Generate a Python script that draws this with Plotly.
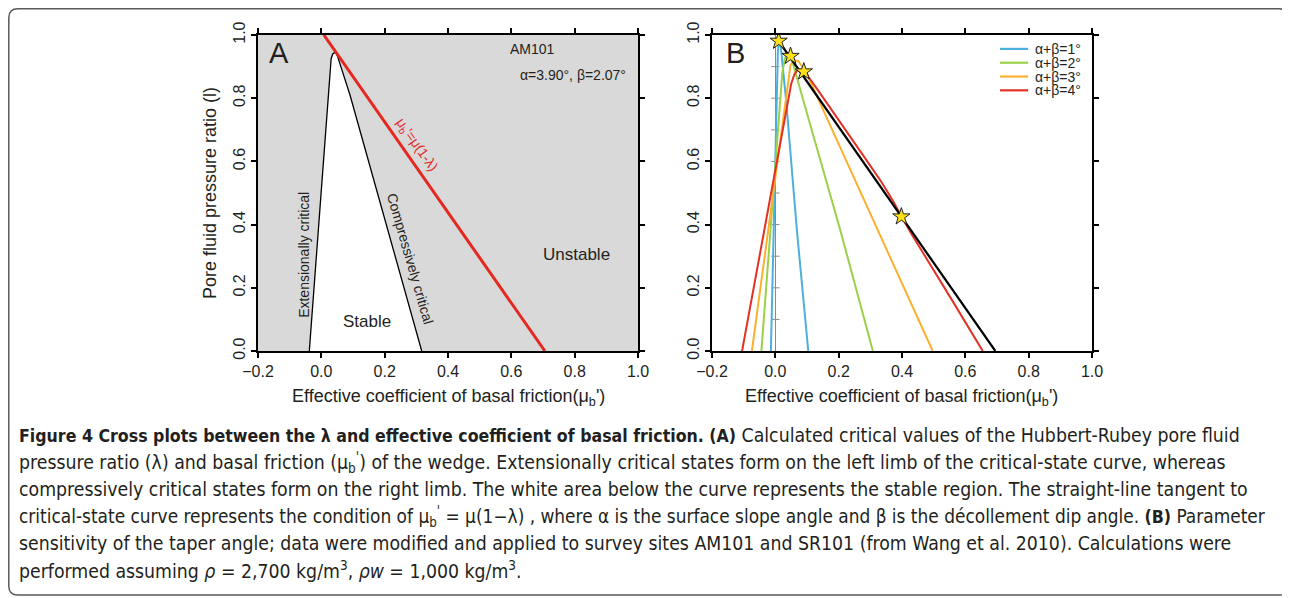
import plotly.graph_objects as go

# The page body has an 8 px margin, so the figure is drawn 8 px smaller and all
# reference pixel positions are shifted by that margin.
OFF = 8
W, H = 1290 - OFF, 598 - OFF

# ---------------- data ----------------
x_ticks = [-0.2, 0.0, 0.2, 0.4, 0.6, 0.8, 1.0]
y_ticks = [0.0, 0.2, 0.4, 0.6, 0.8, 1.0]
zero_minor_y = [0.1, 0.2, 0.3, 0.4, 0.5, 0.6, 0.7, 0.8, 0.9]

# Panel A: critical-state envelope (stable wedge) and tangent line
stable_x = [-0.038, -0.023, -0.0084, 0.0064, 0.022, 0.028, 0.031, 0.036, 0.041, 0.047, 0.052, 0.0905, 0.317]
stable_y = [0.0, 0.2, 0.4, 0.6, 0.81, 0.90, 0.925, 0.940, 0.944, 0.942, 0.930, 0.81, 0.0]
tangentA_x = [0.008, 0.706]
tangentA_y = [1.0, 0.0]

# Panel B: sensitivity curves
series_names = ["α+β=1°", "α+β=2°", "α+β=3°", "α+β=4°"]
blue_x = [-0.014, -0.005, 0.003, 0.008, 0.012, 0.016, 0.034, 0.068, 0.104]
blue_y = [0.0, 0.415, 0.80, 0.95, 0.985, 0.975, 0.794, 0.383, 0.0]
green_x = [-0.044, -0.013, 0.010, 0.022, 0.030, 0.038, 0.049, 0.088, 0.205, 0.308]
green_y = [0.0, 0.415, 0.72, 0.88, 0.925, 0.942, 0.934, 0.794, 0.383, 0.0]
orange_x = [-0.074, -0.019, 0.012, 0.032, 0.041, 0.048, 0.058, 0.072, 0.085, 0.098, 0.137, 0.309, 0.497]
orange_y = [0.0, 0.415, 0.65, 0.80, 0.87, 0.905, 0.920, 0.918, 0.900, 0.880, 0.794, 0.415, 0.0]
red_x = [-0.105, -0.028, 0.006, 0.035, 0.050, 0.060, 0.068, 0.078, 0.088, 0.098, 0.105, 0.135, 0.175,
         0.225, 0.280, 0.335, 0.370, 0.397, 0.430, 0.558, 0.655]
red_y = [0.0, 0.415, 0.60, 0.763, 0.845, 0.875, 0.887, 0.890, 0.888, 0.880, 0.867, 0.825, 0.768,
         0.695, 0.615, 0.535, 0.478, 0.428, 0.370, 0.161, 0.0]
tangentB_x = [0.0105, 0.6947]
tangentB_y = [0.981, 0.0]
star_x = [0.0105, 0.048, 0.090, 0.398]
star_y = [0.981, 0.933, 0.884, 0.425]

x_title = "Effective coefficient of basal friction(μ<sub>b</sub>')"
y_title = "Pore fluid pressure ratio (l)"

BOLD = '<span style="font-size:17.6px"><b>{}</b></span>'
caption_lines = [
    BOLD.format("Figure 4 Cross plots between the λ and effective coefficient of basal friction. (A)")
    + " Calculated critical values of the Hubbert-Rubey pore fluid",
    "pressure ratio (λ) and basal friction (μ<sub>b</sub><sup>'</sup>) of the wedge. Extensionally critical states form on the left limb of the critical-state curve, whereas",
    "compressively critical states form on the right limb. The white area below the curve represents the stable region. The straight-line tangent to",
    "critical-state curve represents the condition of μ<sub>b</sub><sup>'</sup> = μ(1−λ) , where α is the surface slope angle and β is the décollement dip angle. "
    + BOLD.format("(B)") + " Parameter",
    "sensitivity of the taper angle; data were modified and applied to survey sites AM101 and SR101 (from Wang et al. 2010). Calculations were",
    "performed assuming <i>ρ</i> = 2,700 kg/m<sup>3</sup>, <i>ρw</i> = 1,000 kg/m<sup>3</sup>.",
]

# ---------------- styling ----------------
FONT = "Liberation Sans, Arial, Helvetica, sans-serif"
CAP_FONT = "Liberation Sans Narrow, DejaVu Sans Condensed, Liberation Sans, sans-serif"
CAP_SIZES = [19.3, 19.3, 19.3, 18.9, 19.3, 19.3]
TXT = "#231f20"
C_BLUE, C_GREEN, C_ORANGE, C_RED = "#4dafdd", "#9bd048", "#fbb12f", "#e33124"
colors = [C_BLUE, C_GREEN, C_ORANGE, C_RED]


def fx(p):  # reference page pixel -> paper fraction
    return (p - OFF) / W


def fy(p):
    return 1 - (p - OFF) / H


fig = go.Figure()

# Panel A
fig.add_trace(go.Scatter(x=stable_x, y=stable_y, mode="lines", fill="toself", fillcolor="white",
                         line=dict(color="black", width=1.3), xaxis="x", yaxis="y", showlegend=False,
                         hoverinfo="skip"))
fig.add_trace(go.Scatter(x=tangentA_x, y=tangentA_y, mode="lines", line=dict(color="#e4281f", width=3),
                         xaxis="x", yaxis="y", showlegend=False))

# Panel B: small marks on the zero line
fig.add_trace(go.Scatter(x=[0.0] * len(zero_minor_y), y=zero_minor_y, mode="markers",
                         marker=dict(symbol="line-ew", size=6, line=dict(color="#8a8a8a", width=1)),
                         xaxis="x2", yaxis="y2", showlegend=False, hoverinfo="skip"))
for xs, ys, c, n in zip([blue_x, green_x, orange_x, red_x], [blue_y, green_y, orange_y, red_y], colors, series_names):
    fig.add_trace(go.Scatter(x=xs, y=ys, mode="lines", name=n, line=dict(color=c, width=2),
                             xaxis="x2", yaxis="y2", showlegend=False))
fig.add_trace(go.Scatter(x=tangentB_x, y=tangentB_y, mode="lines", line=dict(color="black", width=2.2),
                         xaxis="x2", yaxis="y2", showlegend=False))
fig.add_trace(go.Scatter(x=star_x, y=star_y, mode="markers",
                         marker=dict(symbol="star", size=13, color="#ffe11a", line=dict(color="#222", width=1)),
                         xaxis="x2", yaxis="y2", showlegend=False))

# ---------------- axes ----------------
ydom = [fy(351), fy(35)]
axis_common = dict(ticks="outside", ticklen=5, tickwidth=1.5, tickcolor="black", showline=True,
                   linewidth=2, linecolor="black", mirror="ticks", showgrid=False, zeroline=False,
                   automargin=False,
                   tickfont=dict(family=FONT, size=16, color=TXT), tickformat=".1f")
fig.update_layout(
    xaxis=dict(domain=[fx(258), fx(638)], range=[-0.2, 1.0], tickvals=x_ticks, anchor="y", **axis_common),
    yaxis=dict(domain=ydom, range=[0, 1], tickvals=y_ticks, anchor="x", tickangle=-90, **axis_common),
    xaxis2=dict(domain=[fx(712), fx(1092)], range=[-0.2, 1.0], tickvals=x_ticks, anchor="y2",
                **{**axis_common, "zeroline": True, "zerolinecolor": "#8a8a8a", "zerolinewidth": 1}),
    yaxis2=dict(domain=ydom, range=[0, 1], tickvals=y_ticks, anchor="x2", tickangle=-90, **axis_common),
)

shapes = [
    dict(type="rect", xref="x", yref="y", x0=-0.2, x1=1.0, y0=0, y1=1, fillcolor="#d9d9d9",
         line=dict(width=0), layer="below"),
]

# outer rounded frame
x0, x1, y0, y1, r = 8.8, 1288, 8.8, 595, 9
path = (f"M {fx(x0+r)},{fy(y0)} L {fx(x1-r)},{fy(y0)} Q {fx(x1)},{fy(y0)} {fx(x1)},{fy(y0+r)} "
        f"L {fx(x1)},{fy(y1-r)} Q {fx(x1)},{fy(y1)} {fx(x1-r)},{fy(y1)} "
        f"L {fx(x0+r)},{fy(y1)} Q {fx(x0)},{fy(y1)} {fx(x0)},{fy(y1-r)} "
        f"L {fx(x0)},{fy(y0+r)} Q {fx(x0)},{fy(y0)} {fx(x0+r)},{fy(y0)} Z")
shapes.append(dict(type="path", xref="paper", yref="paper", path=path, line=dict(color="#5a5a5a", width=1.5)))

# manual legend for panel B
annotations = []
for i, (n, c) in enumerate(zip(series_names, colors)):
    yy = 0.956 - i * 0.0437
    shapes.append(dict(type="line", xref="x2 domain", yref="y2 domain", x0=0.758, x1=0.832, y0=yy, y1=yy,
                       line=dict(color=c, width=2.2)))
    annotations.append(dict(xref="x2 domain", yref="y2 domain", x=0.845, y=yy, text=n, showarrow=False,
                            xanchor="left", yanchor="middle", font=dict(family=FONT, size=14, color=TXT)))

# axis titles
annotations += [
    dict(xref="paper", yref="paper", x=fx(448), y=fy(397), text=x_title, showarrow=False,
         xanchor="center", yanchor="middle", font=dict(family=FONT, size=18, color=TXT)),
    dict(xref="paper", yref="paper", x=fx(902), y=fy(397), text=x_title, showarrow=False,
         xanchor="center", yanchor="middle", font=dict(family=FONT, size=18, color=TXT)),
    dict(xref="paper", yref="paper", x=fx(210), y=fy(193), text=y_title, showarrow=False, textangle=-90,
         xanchor="center", yanchor="middle", font=dict(family=FONT, size=18, color=TXT)),
]


def lab(xref, yref, x, y, text, size=14, color=TXT, angle=0, xanchor="center"):
    return dict(xref=xref, yref=yref, x=x, y=y, text=text, showarrow=False, textangle=angle,
                xanchor=xanchor, yanchor="middle", font=dict(family=FONT, size=size, color=color))


annotations += [
    lab("x", "y", -0.172, 0.943, "A", size=29, xanchor="left"),
    lab("x2", "y2", -0.162, 0.943, "B", size=29, xanchor="left"),
    lab("x", "y", 0.668, 0.956, "AM101"),
    lab("x", "y", 0.968, 0.873, "α=3.90°, β=2.07°", xanchor="right"),
    lab("x", "y", -0.055, 0.304, "Extensionally critical", angle=-90),
    lab("x", "y", 0.28, 0.294, "Compressively critical", angle=74),
    lab("x", "y", 0.301, 0.652, "μ<sub>b</sub>'=μ(1-λ)", color="#e4281f", angle=55),
    lab("x", "y", 0.143, 0.093, "Stable", size=17),
    lab("x", "y", 0.806, 0.306, "Unstable", size=17),
]

# caption
for i, line in enumerate(caption_lines):
    annotations.append(dict(xref="paper", yref="paper", x=fx(17), y=fy(435 + 27 * i), text=line,
                            showarrow=False, xanchor="left", yanchor="middle", align="left",
                            font=dict(family=CAP_FONT, size=CAP_SIZES[i], color=TXT)))

fig.update_layout(width=W, height=H, margin=dict(l=0, r=0, t=0, b=0, autoexpand=False),
                  paper_bgcolor="white", plot_bgcolor="white", showlegend=False,
                  shapes=shapes, annotations=annotations)

fig.write_html("out.html")
